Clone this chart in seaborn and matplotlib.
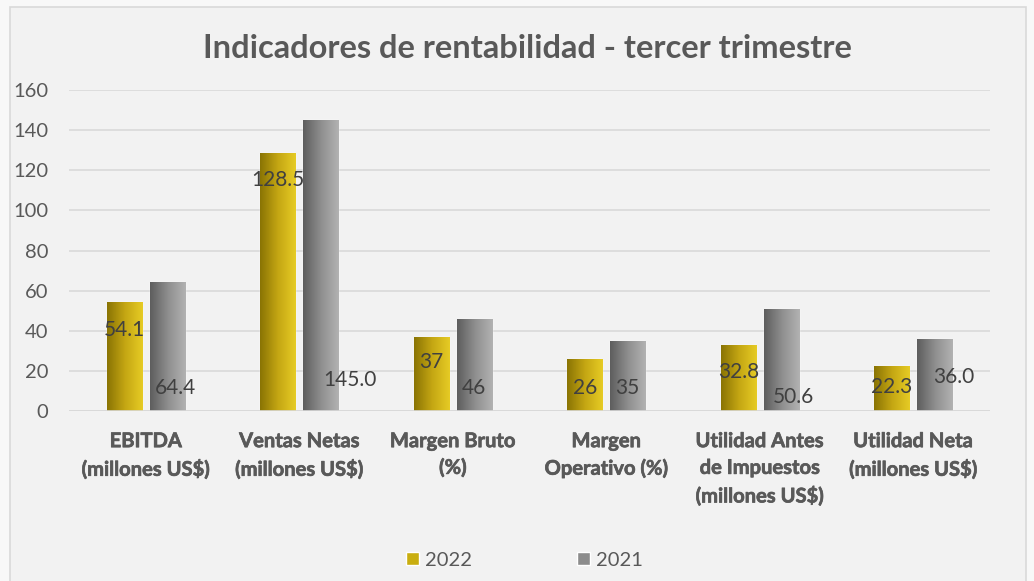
import numpy as np
import pandas as pd
import seaborn as sns
import matplotlib.pyplot as plt
import matplotlib.patheffects as pe
from matplotlib.patches import Rectangle, Patch
from matplotlib.colors import LinearSegmentedColormap

# Datos
categorias = ["EBITDA\n(millones US$)", "Ventas Netas\n(millones US$)", "Margen Bruto\n(%)",
              "Margen\nOperativo (%)", "Utilidad Antes\nde Impuestos\n(millones US$)",
              "Utilidad Neta\n(millones US$)"]
valores_2022 = [54.1, 128.5, 37, 26, 32.8, 22.3]
valores_2021 = [64.4, 145.0, 46, 35, 50.6, 36.0]
etiquetas_2022 = ["54.1", "128.5", "37", "26", "32.8", "22.3"]
etiquetas_2021 = ["64.4", "145.0", "46", "35", "50.6", "36.0"]

# posiciones de las etiquetas (como en el original de Excel)
etiq_y_2022 = [40.4, 115, 24.4, 11.5, 19.4, 12]
etiq_y_2021 = [11.5, 15.5, 11.5, 11.5, 7, 17]
etiq_dx_2021 = [6, 21, 0, 0, 9, 14]

tabla = pd.DataFrame({
    "categoria": categorias * 2,
    "valor": valores_2022 + valores_2021,
    "anio": ["2022"] * 6 + ["2021"] * 6,
})

gris_texto = "#595959"
fondo = "#F2F2F2"
colores = {"2022": "#C9AE10", "2021": "#8C8C8C"}
grad = {
    "2022": LinearSegmentedColormap.from_list("g22", ["#8A7404", "#C4A613", "#E6CB25"]),
    "2021": LinearSegmentedColormap.from_list("g21", ["#5E5E5E", "#8E8E8E", "#B2B2B2"]),
}

sns.set_style("white")
plt.rcParams["font.family"] = ["Lato", "DejaVu Sans"]

fig = plt.figure(figsize=(10.34, 5.81), dpi=100, facecolor="#F8F8F8")
fig.patches.append(Rectangle((10 / 1034, -0.01), 1016 / 1034, 1 - 7 / 581 + 0.01,
                             transform=fig.transFigure, facecolor=fondo,
                             edgecolor="#D9D9D9", linewidth=1.2, zorder=-5))
ax = fig.add_axes([69 / 1034, 1 - 411 / 581, 921 / 1034, 321 / 581])
ax.set_facecolor(fondo)

sns.barplot(data=tabla, x="categoria", y="valor", hue="anio", palette=colores,
            width=0.56, gap=0.18, ax=ax, legend=False, zorder=3)

# degradado horizontal en cada barra
n = len(categorias)
for i, p in enumerate(ax.patches[:2 * n]):
    anio = "2022" if i < n else "2021"
    x0, y0 = p.get_x(), p.get_y()
    w, h = p.get_width(), p.get_height()
    img = ax.imshow(np.linspace(0, 1, 64).reshape(1, -1), cmap=grad[anio], aspect="auto",
                    extent=(x0, x0 + w, y0, y0 + h), zorder=4)
    img.set_clip_path(p)

ax.set_xlim(-0.5, n - 0.5)
ax.set_ylim(0, 160)
ax.set_yticks(range(0, 161, 20))
ax.yaxis.grid(True, color="#D9D9D9", linewidth=1.2, zorder=0)
ax.set_axisbelow(True)
for s in ax.spines.values():
    s.set_visible(False)
ax.axhline(0, color="#D9D9D9", linewidth=1.2, zorder=5)
ax.tick_params(axis="y", length=0, pad=15, labelsize=14.5, labelcolor=gris_texto)
ax.tick_params(axis="x", length=0, pad=14.5, labelsize=14.5, labelcolor=gris_texto)
ax.set_xlabel("")
ax.set_ylabel("")

# etiquetas de datos
desp = 0.14
for i in range(n):
    ax.text(i - desp, etiq_y_2022[i], etiquetas_2022[i], ha="center", va="center",
            fontsize=15, color="#404040", zorder=6)
    ax.annotate(etiquetas_2021[i], (i + desp, etiq_y_2021[i]), xytext=(etiq_dx_2021[i], 0),
                textcoords="offset points", ha="center", va="center",
                fontsize=15, color="#404040", zorder=6)

fig.text(527 / 1034, 1 - 48 / 581, "Indicadores de rentabilidad - tercer trimestre",
         ha="center", va="center", fontsize=23.5, fontweight="bold", color=gris_texto)

handles = [Patch(facecolor=colores["2022"]), Patch(facecolor=colores["2021"])]
fig.legend(handles, ["2022", "2021"], loc="center", bbox_to_anchor=(0.507, 1 - 560 / 581),
           ncol=2, frameon=False, fontsize=14.5, labelcolor=gris_texto,
           handlelength=0.65, handleheight=0.65, handletextpad=0.3, columnspacing=5.2)

# etiquetas del eje x en negrita
ax.set_xticks(range(n))
ax.set_xticklabels(categorias)
plt.setp(ax.get_xticklabels(), fontweight="bold", linespacing=1.42, va="top",
         path_effects=[pe.withStroke(linewidth=0.5, foreground=gris_texto)])

fig.savefig("out.png", dpi=100, facecolor=fig.get_facecolor())
